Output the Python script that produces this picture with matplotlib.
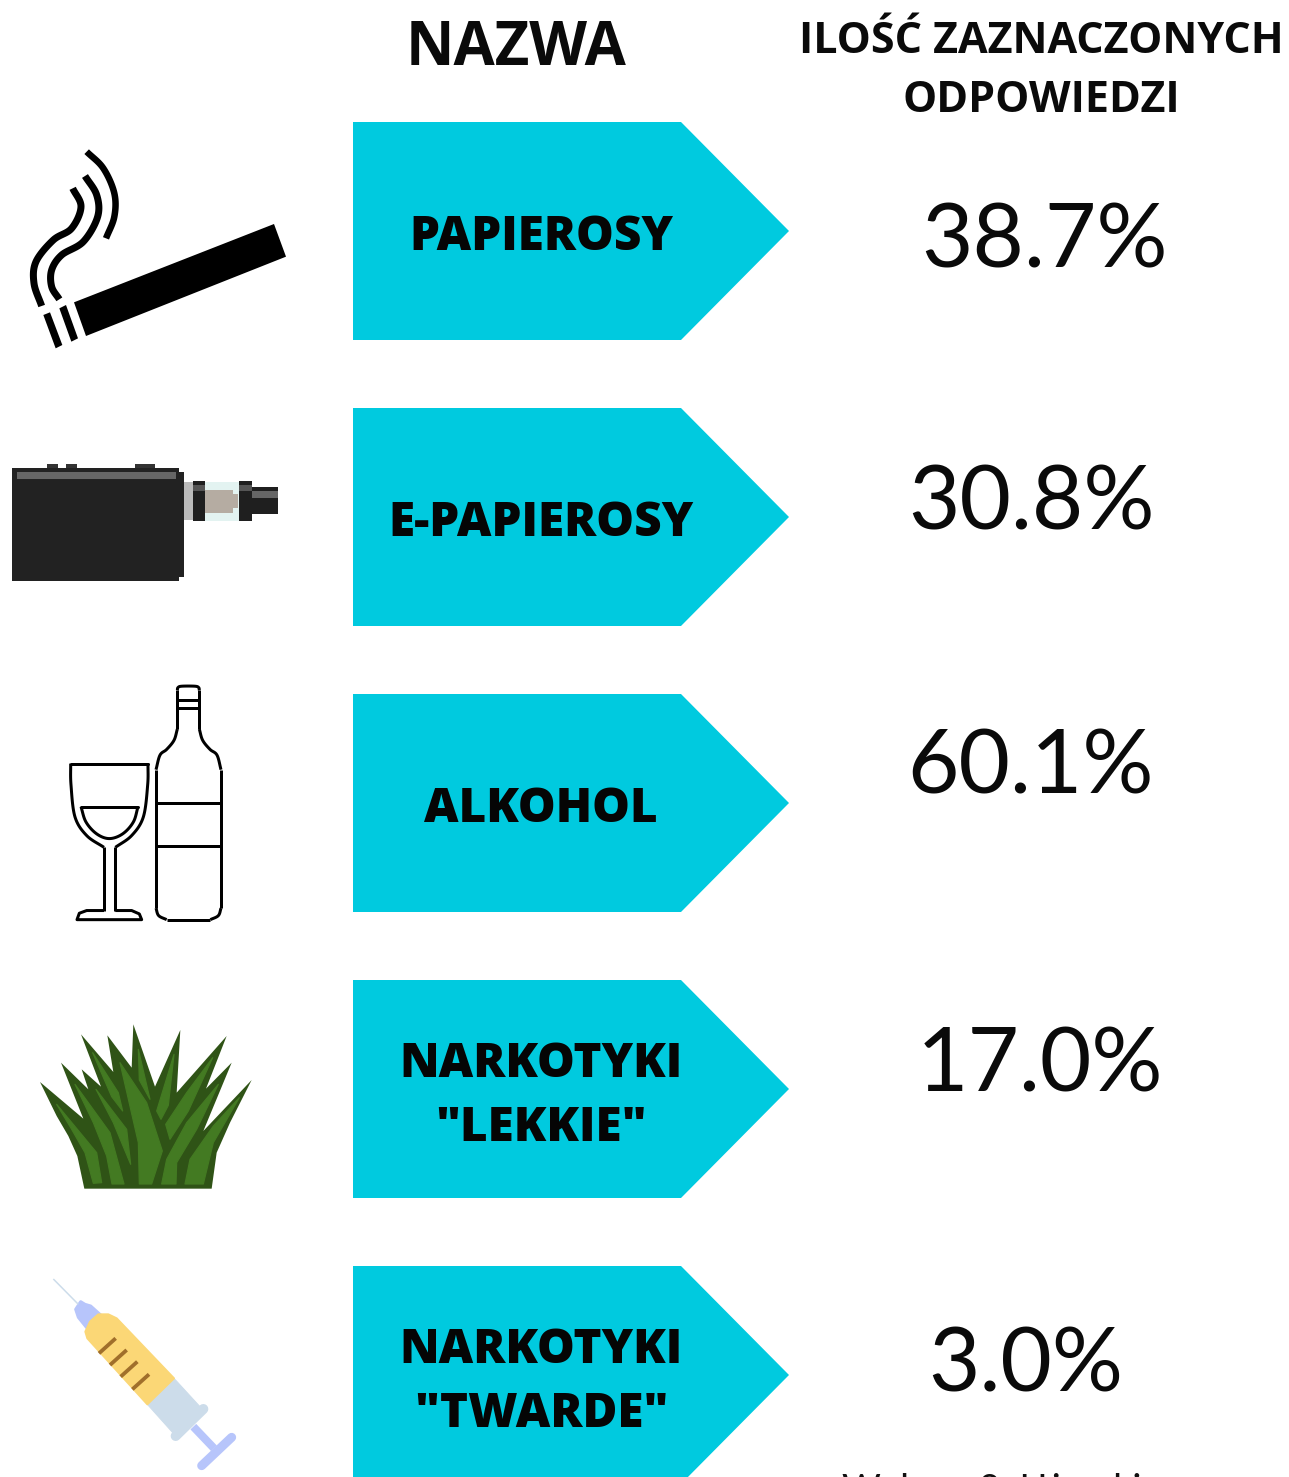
import numpy as np
import matplotlib
matplotlib.use("Agg")
import matplotlib.pyplot as plt
from matplotlib.patches import Polygon

categories = ["PAPIEROSY", "E-PAPIEROSY", "ALKOHOL", 'NARKOTYKI\n"LEKKIE"', 'NARKOTYKI\n"TWARDE"']
values = [38.7, 30.8, 60.1, 17.0, 3.0]
header_name = "NAZWA"
header_count = ["ILOŚĆ ZAZNACZONYCH", "ODPOWIEDZI"]
caption = "Wykres 8: Używki"

W, H = 1289, 1477
fig = plt.figure(figsize=(W / 100, H / 100), dpi=100)
ax = fig.add_axes([0, 0, 1, 1])
ax.set_xlim(0, W)
ax.set_ylim(H, 0)
ax.axis("off")
PX = 0.72
HEAD = "Open Sans"
CYAN = "#00cadf"


def smooth(points, n=14):
    p = np.array(points, float)
    p = np.vstack([2 * p[0] - p[1], p, 2 * p[-1] - p[-2]])
    out = []
    for i in range(1, len(p) - 2):
        for t in np.linspace(0, 1, n, endpoint=False):
            out.append(0.5 * ((2 * p[i]) + (p[i + 1] - p[i - 1]) * t
                              + (2 * p[i - 1] - 5 * p[i] + 4 * p[i + 1] - p[i + 2]) * t ** 2
                              + (3 * p[i] - p[i - 1] - 3 * p[i + 1] + p[i + 2]) * t ** 3))
    out.append(p[-2])
    return np.array(out)


class Icon:
    def __init__(self, ox, oy, s=3.0, sy=None):
        self.ox, self.oy, self.s, self.sy = ox, oy, s, sy or s

    def t(self, pts):
        a = np.array(pts, float) / [self.s, self.sy]
        return a + [self.ox, self.oy]

    def poly(self, pts, color, edge=0):
        ax.add_patch(Polygon(self.t(pts), closed=True, fc=color, ec=color if edge else "none",
                             lw=edge * PX, joinstyle="round"))

    def rect(self, x0, y0, x1, y1, color):
        self.poly([(x0, y0), (x1, y0), (x1, y1), (x0, y1)], color)

    def line(self, pts, color, w, cap="butt", curved=False):
        a = self.t(smooth(pts) if curved else pts)
        ax.plot(a[:, 0], a[:, 1], color=color, lw=w * PX, solid_capstyle=cap, solid_joinstyle="round")


# ---- arrows and labels
row_step = 286
for i, name in enumerate(categories):
    top = 122 + i * row_step
    ax.add_patch(Polygon([(353, top), (681, top), (789, top + 109), (681, top + 218), (353, top + 218)],
                         closed=True, fc=CYAN, ec="none"))
    lines = name.split("\n")
    offsets = [128] if len(lines) == 1 else [97, 161]
    for ln, off in zip(lines, offsets):
        ax.text(541, top + off, ln, ha="center", va="baseline", fontsize=34.3, fontweight=800,
                family=HEAD, color="#050505")

# ---- headers
ax.text(516, 65, header_name, ha="center", va="baseline", fontsize=43, fontweight=700, family=HEAD, color="#0a0a0a")
ax.text(1041, 53, header_count[0], ha="center", va="baseline", fontsize=31, fontweight=700, family=HEAD, color="#0a0a0a")
ax.text(1041, 112, header_count[1], ha="center", va="baseline", fontsize=31, fontweight=700, family=HEAD, color="#0a0a0a")

# ---- percentages
val_x = [1044, 1031, 1031, 1040, 1026]
val_base = [268, 530, 794, 1091, 1392]
for v, x, y in zip(values, val_x, val_base):
    ax.text(x, y, f"{v:.1f}%", ha="center", va="baseline", fontsize=64, fontweight=400, family="Lato", color="#0a0a0a")

ax.text(992, 1502, caption, ha="center", va="baseline", fontsize=27, family="Lato", color="#111111", clip_on=True)

# ---- cigarette
ic = Icon(0, 130)
ic.poly([(222, 517), (822, 282), (858, 380), (258, 618)], "black")
ic.poly([(130, 555), (150, 547), (187, 645), (167, 655)], "black")
ic.poly([(178, 535), (198, 525), (234, 625), (214, 635)], "black")
ic.line([(218, 175), (243, 230), (215, 295), (160, 330), (108, 395), (102, 460), (125, 528)], "black", 7, curved=True)
ic.line([(255, 138), (290, 195), (293, 260), (250, 335), (185, 375), (155, 420), (155, 470), (178, 508)], "black", 7, curved=True)
ic.line([(260, 65), (310, 115), (343, 190), (343, 260), (318, 325)], "black", 6.5, curved=True)

# ---- vape
ic.rect(37, 1013, 537, 1352, "#222222")
ic.rect(537, 1025, 552, 1340, "#222222")
ic.rect(52, 1025, 528, 1047, "#666666")
for a, b in [(140, 175), (197, 232), (405, 465)]:
    ic.rect(a, 1003, b, 1013, "#333333")
ic.rect(552, 1055, 578, 1170, "#bbbbbb")
ic.rect(578, 1053, 616, 1172, "#1f1f1f")
ic.rect(578, 1065, 616, 1082, "#555555")
ic.rect(616, 1055, 716, 1172, "#e3f3f1")
ic.rect(616, 1080, 698, 1150, "#b5aca2")
ic.rect(698, 1092, 714, 1135, "#b5aca2")
ic.rect(716, 1053, 757, 1172, "#1f1f1f")
ic.rect(716, 1065, 757, 1082, "#555555")
ic.rect(757, 1072, 833, 1152, "#1f1f1f")
ic.rect(757, 1083, 833, 1103, "#666666")

# ---- wine and bottle
ic = Icon(0, 670, 3.0, 2.96)
lw = 3
ic.line([(212, 277), (444, 277)], "black", lw, cap="round")
ic.line([(212, 277), (213, 340), (225, 435), (260, 490), (312, 525)], "black", lw, curved=True)
ic.line([(444, 277), (443, 340), (430, 435), (395, 490), (346, 525)], "black", lw, curved=True)
ic.line([(312, 525), (312, 712)], "black", lw)
ic.line([(346, 525), (346, 712)], "black", lw)
ic.line([(312, 712), (260, 712), (238, 720), (231, 739), (425, 739), (418, 722), (395, 712), (346, 712)], "black", lw)
ic.line([(243, 405), (414, 405)], "black", lw, cap="round")
ic.line([(243, 405), (258, 450), (290, 485), (328, 499), (368, 485), (400, 450), (414, 405)], "black", lw, curved=True)
# bottle: straight sides, curved corners and shoulders
ic.line([(532, 175), (532, 60)], "black", lw)
ic.line([(598, 175), (598, 60)], "black", lw)
ic.line([(532, 60), (534, 52), (545, 48), (585, 48), (596, 52), (598, 60)], "black", lw, curved=True)
ic.line([(532, 175), (522, 208), (500, 235), (480, 252), (468, 295)], "black", lw, curved=True)
ic.line([(598, 175), (608, 208), (630, 235), (651, 252), (663, 295)], "black", lw, curved=True)
ic.line([(468, 295), (468, 705)], "black", lw)
ic.line([(663, 295), (663, 705)], "black", lw)
ic.line([(468, 705), (476, 727), (500, 739)], "black", lw, curved=True)
ic.line([(663, 705), (655, 727), (631, 739)], "black", lw, curved=True)
ic.line([(500, 739), (631, 739)], "black", lw)
for yy in (90, 113):
    ic.line([(532, yy), (598, yy)], "black", lw)
for yy in (393, 521):
    ic.line([(468, yy), (663, yy)], "black", lw)

# ---- grass
ic = Icon(0, 676)
ic.poly([(120, 1218), (250, 1328), (183, 1160), (265, 1240), (245, 1180), (303, 1232), (243, 1075), (340, 1188),
         (322, 1078), (395, 1175), (400, 1045), (465, 1232), (541, 1062), (530, 1250), (680, 1080), (618, 1238),
         (695, 1160), (610, 1365), (755, 1212), (690, 1340), (650, 1430), (635, 1538), (253, 1538), (232, 1440),
         (205, 1380), (170, 1320)], "#2f5316")
blades = [
    [(170, 1285), (290, 1430), (305, 1520), (280, 1522), (255, 1430), (215, 1360)],
    [(225, 1225), (330, 1370), (372, 1524), (336, 1524), (320, 1440), (280, 1340)],
    [(288, 1240), (380, 1360), (392, 1465), (340, 1340)],
    [(278, 1130), (355, 1250), (368, 1305), (335, 1262)],
    [(360, 1160), (440, 1280), (487, 1425), (455, 1524), (418, 1524), (415, 1400)],
    [(415, 1120), (450, 1270), (418, 1212)],
    [(522, 1135), (505, 1288), (483, 1330), (470, 1305)],
    [(638, 1145), (565, 1305), (510, 1390), (497, 1345), (560, 1250)],
    [(655, 1225), (590, 1360), (530, 1460), (528, 1524), (485, 1524), (500, 1450), (560, 1340)],
    [(718, 1265), (640, 1400), (610, 1524), (555, 1524), (570, 1450), (640, 1350)],
]
for b in blades:
    ic.poly(b, "#437a22", edge=1.2)

# ---- syringe
ic = Icon(30, 1260)
BLUE = "#b7c5fb"
PALE = "#ccdcea"
ic.line([(70, 57), (145, 133)], PALE, 1.5)
ic.poly([(137, 148), (152, 125), (165, 133), (182, 138), (212, 165), (170, 203), (145, 172)], BLUE, edge=3)
ic.line([(490, 500), (552, 565)], BLUE, 8)
ic.line([(515, 617), (605, 532)], BLUE, 9, cap="round")
ic.poly([(432, 355), (510, 440), (430, 520), (352, 433)], PALE, edge=1)
ic.line([(520, 447), (437, 528)], PALE, 10, cap="round")
ic.poly([(235, 163), (260, 175), (432, 355), (352, 433), (172, 235), (166, 215), (180, 185), (205, 163)], "#fbd776", edge=2)
for a, b in [((207, 280), (257, 235)), ((240, 315), (290, 270)), ((272, 350), (322, 305)), ((307, 388), (357, 343))]:
    ic.line([a, b], "#a06f2b", 3.8)

fig.savefig("out.png", dpi=100, facecolor="white")
